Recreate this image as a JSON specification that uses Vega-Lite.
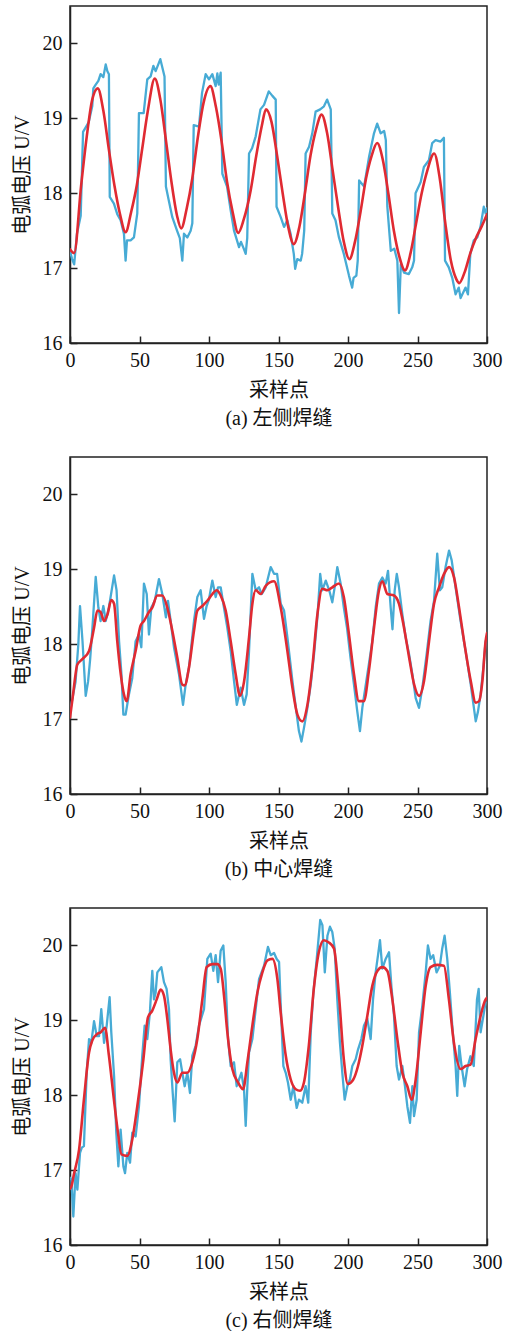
{
  "$schema": "https://vega.github.io/schema/vega-lite/v6.json",
  "background": "white",
  "padding": {"left": 11, "top": 5, "right": 5, "bottom": 0},
  "config": {
    "view": {"stroke": "#222", "strokeWidth": 1.5},
    "axis": {
      "grid": false,
      "domainColor": "#222", "domainWidth": 1.5,
      "tickColor": "#222", "tickWidth": 1.5, "tickSize": -7,
      "labelFont": "Liberation Serif", "labelFontSize": 20, "labelColor": "#111",
      "labelFlush": false, "labelOverlap": false,
      "titleFont": "Liberation Serif, Noto Sans CJK SC", "titleFontSize": 20,
      "titleFontWeight": "normal", "titleColor": "#111"
    },
    "axisX": {"labelPadding": 14},
    "axisY": {"labelPadding": 15},
    "line": {"strokeJoin": "round", "strokeCap": "round"}
  },
  "spacing": 27,
  "datasets": {
    "a_raw": [
      {"s":0,"v":17.23},{"s":1.5,"v":17.12},{"s":3,"v":17.05},{"s":5,"v":17.46},{"s":7.7,"v":17.7},{"s":9.4,"v":18.82},{"s":11,"v":18.87},{"s":13.5,"v":18.95},{"s":16,"v":19.16},{"s":16.8,"v":19.4},{"s":18.5,"v":19.45},{"s":20.4,"v":19.5},{"s":22,"v":19.59},{"s":24,"v":19.55},{"s":25.7,"v":19.72},{"s":26.9,"v":19.63},{"s":28,"v":19.59},{"s":28.6,"v":17.95},{"s":31.6,"v":17.86},{"s":34,"v":17.72},{"s":36.4,"v":17.64},{"s":38.8,"v":17.46},{"s":40,"v":17.1},{"s":41,"v":17.37},{"s":43.6,"v":17.37},{"s":46,"v":17.41},{"s":48.4,"v":17.73},{"s":49.6,"v":19.07},{"s":53,"v":19.07},{"s":55.6,"v":19.52},{"s":58,"v":19.56},{"s":60,"v":19.7},{"s":61.6,"v":19.63},{"s":65,"v":19.79},{"s":68,"v":19.56},{"s":69,"v":18.09},{"s":71,"v":17.91},{"s":73.6,"v":17.68},{"s":77,"v":17.5},{"s":79,"v":17.4},{"s":80.8,"v":17.1},{"s":82,"v":17.46},{"s":84.4,"v":17.41},{"s":86.8,"v":17.5},{"s":88,"v":17.6},{"s":89,"v":18.91},{"s":92.8,"v":18.89},{"s":95,"v":19.34},{"s":97.6,"v":19.59},{"s":100,"v":19.52},{"s":102.4,"v":19.59},{"s":104.8,"v":19.43},{"s":106,"v":19.6},{"s":107,"v":19.45},{"s":108.4,"v":19.61},{"s":109.6,"v":18.26},{"s":113,"v":18.09},{"s":115.6,"v":17.77},{"s":118,"v":17.5},{"s":121.6,"v":17.28},{"s":123,"v":17.35},{"s":125,"v":17.26},{"s":126.4,"v":17.19},{"s":127.5,"v":17.4},{"s":128.8,"v":18.53},{"s":131,"v":18.6},{"s":133.6,"v":18.76},{"s":137,"v":19.12},{"s":139.6,"v":19.18},{"s":143,"v":19.36},{"s":145.6,"v":19.3},{"s":148,"v":19.25},{"s":148.6,"v":17.82},{"s":151.6,"v":17.68},{"s":154,"v":17.55},{"s":156.3,"v":17.64},{"s":158.7,"v":17.46},{"s":161,"v":17.19},{"s":162,"v":16.99},{"s":163.5,"v":17.12},{"s":166,"v":17.1},{"s":167,"v":17.19},{"s":168.5,"v":17.5},{"s":169.5,"v":18.53},{"s":172,"v":18.62},{"s":174.3,"v":18.8},{"s":176.7,"v":19.09},{"s":180,"v":19.12},{"s":182.7,"v":19.16},{"s":185,"v":19.25},{"s":187.6,"v":19.12},{"s":188.7,"v":17.73},{"s":191,"v":17.64},{"s":193.5,"v":17.41},{"s":197,"v":17.19},{"s":200.7,"v":16.9},{"s":203,"v":16.74},{"s":204,"v":16.87},{"s":206,"v":16.9},{"s":207,"v":17.1},{"s":208,"v":18.17},{"s":211.6,"v":18.09},{"s":215.2,"v":18.49},{"s":218.7,"v":18.8},{"s":221,"v":18.93},{"s":223.5,"v":18.8},{"s":226,"v":18.83},{"s":227.2,"v":18.71},{"s":228.3,"v":17.82},{"s":230.8,"v":17.23},{"s":233.3,"v":17.26},{"s":235.5,"v":17.1},{"s":236.7,"v":16.4},{"s":238,"v":17.05},{"s":240.3,"v":16.94},{"s":243.8,"v":16.92},{"s":246.2,"v":17.01},{"s":247.5,"v":17.1},{"s":248.6,"v":18.0},{"s":252.3,"v":18.15},{"s":254.6,"v":18.35},{"s":258.2,"v":18.44},{"s":260.6,"v":18.67},{"s":263,"v":18.71},{"s":266.6,"v":18.69},{"s":269,"v":18.74},{"s":269.8,"v":17.1},{"s":272.5,"v":17.01},{"s":275,"v":16.87},{"s":277.4,"v":16.65},{"s":279.7,"v":16.74},{"s":281,"v":16.6},{"s":284.6,"v":16.74},{"s":286.3,"v":16.65},{"s":288,"v":17.19},{"s":290.5,"v":17.37},{"s":293,"v":17.41},{"s":295.3,"v":17.55},{"s":297.7,"v":17.82},{"s":299,"v":17.73},{"s":300,"v":17.8}
    ],
    "a_fit": [
      {"s":0,"v":17.25},{"s":3,"v":17.2},{"s":8,"v":18.1},{"s":12,"v":18.75},{"s":16,"v":19.25},{"s":20,"v":19.4},{"s":24,"v":19.1},{"s":28,"v":18.58},{"s":32,"v":18.1},{"s":36,"v":17.72},{"s":40,"v":17.48},{"s":44,"v":17.75},{"s":48,"v":18.1},{"s":52,"v":18.6},{"s":56,"v":19.1},{"s":61,"v":19.53},{"s":65,"v":19.25},{"s":69,"v":18.71},{"s":73,"v":18.15},{"s":77,"v":17.7},{"s":80,"v":17.53},{"s":84,"v":17.8},{"s":88,"v":18.2},{"s":92,"v":18.75},{"s":96,"v":19.2},{"s":101,"v":19.43},{"s":105,"v":19.15},{"s":109,"v":18.7},{"s":113,"v":18.15},{"s":117,"v":17.75},{"s":121,"v":17.47},{"s":125,"v":17.65},{"s":130,"v":18.04},{"s":134,"v":18.5},{"s":138,"v":18.9},{"s":141,"v":19.12},{"s":145,"v":18.95},{"s":149,"v":18.5},{"s":153,"v":18.0},{"s":157,"v":17.55},{"s":161,"v":17.32},{"s":165,"v":17.55},{"s":169,"v":18.0},{"s":173,"v":18.5},{"s":177,"v":18.85},{"s":181,"v":19.05},{"s":185,"v":18.8},{"s":189,"v":18.3},{"s":193,"v":17.8},{"s":197,"v":17.35},{"s":201,"v":17.12},{"s":205,"v":17.35},{"s":209,"v":17.75},{"s":213,"v":18.2},{"s":217,"v":18.5},{"s":221,"v":18.67},{"s":225,"v":18.45},{"s":229,"v":18.0},{"s":233,"v":17.5},{"s":237,"v":17.15},{"s":241,"v":16.97},{"s":245,"v":17.2},{"s":249,"v":17.6},{"s":253,"v":18.0},{"s":257,"v":18.3},{"s":262,"v":18.53},{"s":266,"v":18.2},{"s":270,"v":17.6},{"s":274,"v":17.1},{"s":278,"v":16.85},{"s":280,"v":16.8},{"s":284,"v":16.95},{"s":288,"v":17.2},{"s":292,"v":17.4},{"s":296,"v":17.55},{"s":300,"v":17.72}
    ],
    "b_raw": [
      {"s":0,"v":17.1},{"s":2,"v":17.3},{"s":4,"v":17.5},{"s":6,"v":18.0},{"s":7.2,"v":18.51},{"s":9,"v":18.04},{"s":11.3,"v":17.31},{"s":13,"v":17.5},{"s":14.5,"v":17.8},{"s":16,"v":18.18},{"s":18.5,"v":18.9},{"s":20.4,"v":18.49},{"s":22,"v":18.31},{"s":24,"v":18.51},{"s":25.7,"v":18.31},{"s":28,"v":18.49},{"s":31.7,"v":18.92},{"s":33.5,"v":18.72},{"s":35.3,"v":18.04},{"s":37,"v":17.6},{"s":38.4,"v":17.06},{"s":40,"v":17.06},{"s":42.4,"v":17.33},{"s":44.8,"v":17.55},{"s":47.2,"v":18.04},{"s":49.6,"v":18.13},{"s":51.3,"v":17.96},{"s":53.2,"v":18.81},{"s":55.2,"v":18.67},{"s":56.8,"v":18.13},{"s":58.5,"v":18.49},{"s":61,"v":18.58},{"s":64,"v":18.87},{"s":66.4,"v":18.67},{"s":69,"v":18.36},{"s":70.5,"v":18.58},{"s":72.4,"v":18.31},{"s":74.8,"v":17.96},{"s":78.4,"v":17.6},{"s":81.3,"v":17.19},{"s":83.2,"v":17.46},{"s":85.6,"v":17.69},{"s":89.2,"v":18.31},{"s":91.6,"v":18.63},{"s":94,"v":18.72},{"s":96.4,"v":18.34},{"s":98.3,"v":18.51},{"s":100,"v":18.6},{"s":102.4,"v":18.85},{"s":104.8,"v":18.63},{"s":106.5,"v":18.76},{"s":108.4,"v":18.76},{"s":110.3,"v":18.54},{"s":113.2,"v":18.22},{"s":115.6,"v":17.91},{"s":118,"v":17.51},{"s":120,"v":17.19},{"s":122.8,"v":17.42},{"s":125.2,"v":17.19},{"s":127.1,"v":17.33},{"s":128.8,"v":17.91},{"s":131.2,"v":18.94},{"s":133.6,"v":18.72},{"s":136,"v":18.76},{"s":137.9,"v":18.67},{"s":140.8,"v":18.76},{"s":144.4,"v":19.03},{"s":146.8,"v":18.94},{"s":149,"v":18.94},{"s":151.6,"v":18.54},{"s":154,"v":18.45},{"s":156.4,"v":18.09},{"s":160,"v":17.51},{"s":162.5,"v":17.15},{"s":164.7,"v":16.84},{"s":166.5,"v":16.7},{"s":168.3,"v":16.88},{"s":170.8,"v":17.15},{"s":173.2,"v":17.46},{"s":175.6,"v":17.87},{"s":178,"v":18.36},{"s":180,"v":18.94},{"s":181.5,"v":18.72},{"s":184,"v":18.85},{"s":186.5,"v":18.72},{"s":188.7,"v":18.56},{"s":190.4,"v":18.76},{"s":192.3,"v":19.03},{"s":194.7,"v":18.81},{"s":197,"v":18.49},{"s":199.3,"v":18.22},{"s":201.8,"v":17.82},{"s":204.3,"v":17.46},{"s":206.7,"v":17.1},{"s":208.6,"v":16.84},{"s":210.3,"v":17.15},{"s":212.8,"v":17.46},{"s":215,"v":17.73},{"s":217.5,"v":18.04},{"s":219.9,"v":18.49},{"s":222.3,"v":18.81},{"s":224.7,"v":18.89},{"s":227.1,"v":18.81},{"s":228.8,"v":18.98},{"s":230.7,"v":18.49},{"s":232,"v":18.2},{"s":233.6,"v":18.72},{"s":235.1,"v":18.94},{"s":236.7,"v":18.76},{"s":239.1,"v":18.4},{"s":241.5,"v":18.09},{"s":243.9,"v":17.87},{"s":246.3,"v":17.6},{"s":248.7,"v":17.28},{"s":251.1,"v":17.15},{"s":253.5,"v":17.42},{"s":256.6,"v":17.87},{"s":259.4,"v":18.31},{"s":261.9,"v":18.58},{"s":264.2,"v":19.21},{"s":266.1,"v":18.72},{"s":267.8,"v":18.76},{"s":270.2,"v":19.03},{"s":272.7,"v":19.25},{"s":274.6,"v":19.12},{"s":277.4,"v":18.76},{"s":281,"v":18.31},{"s":284.6,"v":17.91},{"s":288.3,"v":17.46},{"s":291.9,"v":16.97},{"s":293.5,"v":17.1},{"s":295.4,"v":17.33},{"s":297.4,"v":17.69},{"s":299,"v":18.04}
    ],
    "b_fit": [
      {"s":0,"v":17.02},{"s":2,"v":17.3},{"s":5.3,"v":17.73},{"s":8.9,"v":17.8},{"s":13.7,"v":17.91},{"s":17.3,"v":18.22},{"s":19.7,"v":18.45},{"s":22,"v":18.43},{"s":24.5,"v":18.31},{"s":27,"v":18.4},{"s":29.7,"v":18.59},{"s":31.7,"v":18.54},{"s":34,"v":18.04},{"s":36.5,"v":17.6},{"s":38.8,"v":17.33},{"s":40.8,"v":17.24},{"s":43.6,"v":17.6},{"s":47.2,"v":17.91},{"s":50.8,"v":18.25},{"s":53.2,"v":18.31},{"s":56.8,"v":18.43},{"s":59.2,"v":18.49},{"s":62.8,"v":18.65},{"s":66.4,"v":18.65},{"s":70,"v":18.49},{"s":73.6,"v":18.18},{"s":77.2,"v":17.82},{"s":80.8,"v":17.46},{"s":82.5,"v":17.45},{"s":85.6,"v":17.69},{"s":89.2,"v":18.18},{"s":91.6,"v":18.45},{"s":95.2,"v":18.51},{"s":98.8,"v":18.58},{"s":102.4,"v":18.67},{"s":105.5,"v":18.72},{"s":108.4,"v":18.65},{"s":112,"v":18.45},{"s":115.6,"v":18.04},{"s":119.2,"v":17.6},{"s":122.3,"v":17.31},{"s":125.2,"v":17.5},{"s":128.8,"v":18.09},{"s":131.2,"v":18.54},{"s":133.6,"v":18.72},{"s":137.2,"v":18.67},{"s":140.8,"v":18.78},{"s":146.8,"v":18.84},{"s":151.6,"v":18.49},{"s":156.4,"v":17.91},{"s":160,"v":17.42},{"s":163.6,"v":17.06},{"s":167.1,"v":16.97},{"s":170.8,"v":17.19},{"s":174.3,"v":17.69},{"s":178,"v":18.4},{"s":181.5,"v":18.74},{"s":185.2,"v":18.72},{"s":188.7,"v":18.76},{"s":193.5,"v":18.81},{"s":197,"v":18.63},{"s":200.7,"v":18.13},{"s":204.3,"v":17.6},{"s":207.8,"v":17.24},{"s":211.4,"v":17.24},{"s":215,"v":17.64},{"s":218.7,"v":18.22},{"s":222.3,"v":18.72},{"s":224.7,"v":18.84},{"s":228.3,"v":18.67},{"s":233.1,"v":18.65},{"s":236.7,"v":18.54},{"s":240.3,"v":18.22},{"s":244,"v":17.82},{"s":247.6,"v":17.46},{"s":251.1,"v":17.31},{"s":254.7,"v":17.51},{"s":258.3,"v":18.04},{"s":261.9,"v":18.54},{"s":265.5,"v":18.76},{"s":269.1,"v":18.94},{"s":272.7,"v":19.03},{"s":276.3,"v":18.89},{"s":279.9,"v":18.49},{"s":283.5,"v":18.04},{"s":288.3,"v":17.51},{"s":291.9,"v":17.22},{"s":294.3,"v":17.24},{"s":296.7,"v":17.51},{"s":299,"v":18.04},{"s":300,"v":18.15}
    ],
    "c_raw": [
      {"s":0,"v":16.9},{"s":1,"v":16.87},{"s":2.4,"v":16.38},{"s":4,"v":16.96},{"s":5.3,"v":16.74},{"s":7.2,"v":17.23},{"s":8.5,"v":17.3},{"s":10,"v":17.32},{"s":12,"v":18.3},{"s":13.7,"v":18.75},{"s":15.3,"v":18.7},{"s":17.3,"v":18.99},{"s":19.2,"v":18.79},{"s":20.9,"v":18.79},{"s":22.5,"v":19.15},{"s":24.5,"v":18.7},{"s":26.4,"v":18.93},{"s":28.5,"v":19.31},{"s":29.7,"v":18.84},{"s":31.7,"v":18.26},{"s":33.3,"v":17.5},{"s":34.8,"v":17.05},{"s":36.4,"v":17.54},{"s":38.4,"v":17.05},{"s":39.6,"v":16.96},{"s":41.2,"v":17.23},{"s":43.2,"v":17.1},{"s":44.8,"v":17.5},{"s":47.2,"v":17.45},{"s":49.6,"v":17.85},{"s":52,"v":18.53},{"s":53.7,"v":18.93},{"s":55.6,"v":18.75},{"s":57.5,"v":19.11},{"s":59.2,"v":19.66},{"s":60.4,"v":19.28},{"s":61.6,"v":19.37},{"s":62.8,"v":19.64},{"s":65.7,"v":19.71},{"s":67.6,"v":19.51},{"s":69.5,"v":19.42},{"s":71.2,"v":19.15},{"s":72.4,"v":18.48},{"s":73.9,"v":18.03},{"s":75.3,"v":17.65},{"s":77.2,"v":18.44},{"s":79.2,"v":18.48},{"s":80.8,"v":18.3},{"s":82.5,"v":18.12},{"s":84.4,"v":18.3},{"s":86.3,"v":18.03},{"s":88,"v":18.53},{"s":90.4,"v":18.66},{"s":92.8,"v":18.93},{"s":96.4,"v":19.15},{"s":98.8,"v":19.82},{"s":101.2,"v":19.89},{"s":103.1,"v":19.66},{"s":104.8,"v":19.87},{"s":106.5,"v":19.51},{"s":108.4,"v":19.93},{"s":110.3,"v":20.0},{"s":112,"v":19.51},{"s":113.7,"v":18.75},{"s":115.6,"v":18.39},{"s":118,"v":18.44},{"s":119.9,"v":18.12},{"s":121.6,"v":18.21},{"s":123.3,"v":18.3},{"s":125.2,"v":18.08},{"s":126.4,"v":17.59},{"s":127.6,"v":18.12},{"s":128.8,"v":18.57},{"s":131.2,"v":18.75},{"s":133.6,"v":19.15},{"s":136,"v":19.55},{"s":139.6,"v":19.73},{"s":142.4,"v":19.98},{"s":144.4,"v":19.87},{"s":146.8,"v":19.9},{"s":148.7,"v":19.82},{"s":150.4,"v":19.78},{"s":151.6,"v":19.2},{"s":153.5,"v":18.39},{"s":155.2,"v":18.3},{"s":156.8,"v":18.17},{"s":158.8,"v":17.94},{"s":160.7,"v":18.12},{"s":163.1,"v":17.83},{"s":164.7,"v":17.94},{"s":167.1,"v":17.9},{"s":169.5,"v":18.12},{"s":171.4,"v":17.9},{"s":173.2,"v":18.84},{"s":175.1,"v":19.37},{"s":177.5,"v":19.82},{"s":180,"v":20.34},{"s":181.6,"v":20.27},{"s":183.3,"v":19.64},{"s":185.2,"v":20.13},{"s":187,"v":20.25},{"s":188.7,"v":20.18},{"s":190.4,"v":19.96},{"s":192.3,"v":19.28},{"s":194.2,"v":18.7},{"s":195.9,"v":18.3},{"s":197.6,"v":17.94},{"s":199.5,"v":18.12},{"s":201.4,"v":18.21},{"s":203.1,"v":18.39},{"s":205.5,"v":18.48},{"s":207.2,"v":18.61},{"s":209.6,"v":18.75},{"s":211.5,"v":18.93},{"s":213.9,"v":19.02},{"s":216.3,"v":18.75},{"s":218,"v":19.28},{"s":219.9,"v":19.64},{"s":221.6,"v":19.87},{"s":223,"v":20.07},{"s":224.7,"v":19.69},{"s":227.1,"v":19.82},{"s":229.5,"v":19.91},{"s":231.2,"v":19.46},{"s":233.1,"v":19.06},{"s":235,"v":18.39},{"s":236.7,"v":18.21},{"s":239.1,"v":18.39},{"s":241,"v":18.12},{"s":242.7,"v":17.85},{"s":244.6,"v":17.63},{"s":246.3,"v":18.12},{"s":247.5,"v":17.72},{"s":249.4,"v":17.94},{"s":251.1,"v":18.84},{"s":253.5,"v":19.2},{"s":255.9,"v":19.64},{"s":257.5,"v":20.0},{"s":259.4,"v":19.82},{"s":261.3,"v":19.87},{"s":263.7,"v":19.64},{"s":266.1,"v":19.73},{"s":267.8,"v":19.96},{"s":269.5,"v":20.13},{"s":271.4,"v":19.82},{"s":273.3,"v":19.37},{"s":275,"v":18.93},{"s":277.4,"v":18.39},{"s":278.6,"v":17.99},{"s":280,"v":18.66},{"s":281.7,"v":18.39},{"s":283.9,"v":18.12},{"s":285.7,"v":18.35},{"s":288.1,"v":18.52},{"s":290.5,"v":18.39},{"s":292.8,"v":19.28},{"s":294,"v":19.42},{"s":295.4,"v":18.84},{"s":297.4,"v":19.06},{"s":299,"v":19.24}
    ],
    "c_fit": [
      {"s":0,"v":16.75},{"s":1,"v":16.78},{"s":3,"v":16.96},{"s":6.5,"v":17.27},{"s":10,"v":17.94},{"s":13.7,"v":18.57},{"s":16,"v":18.73},{"s":19.7,"v":18.82},{"s":22,"v":18.84},{"s":25.2,"v":18.9},{"s":28,"v":18.53},{"s":31.6,"v":17.94},{"s":34.5,"v":17.5},{"s":37,"v":17.21},{"s":41.2,"v":17.19},{"s":44.8,"v":17.41},{"s":48.4,"v":17.85},{"s":52.8,"v":18.48},{"s":56.1,"v":19.04},{"s":59.2,"v":19.13},{"s":62.4,"v":19.28},{"s":65.2,"v":19.41},{"s":67.6,"v":19.33},{"s":70,"v":19.02},{"s":72.4,"v":18.61},{"s":74.8,"v":18.3},{"s":77.2,"v":18.17},{"s":80.8,"v":18.3},{"s":84.4,"v":18.3},{"s":88,"v":18.44},{"s":91.6,"v":18.75},{"s":95.2,"v":19.28},{"s":98.3,"v":19.71},{"s":102.4,"v":19.75},{"s":106,"v":19.75},{"s":108.4,"v":19.69},{"s":110.8,"v":19.33},{"s":113.2,"v":18.84},{"s":116.8,"v":18.35},{"s":120.9,"v":18.17},{"s":124.5,"v":18.08},{"s":127.6,"v":18.44},{"s":131.2,"v":18.93},{"s":134.8,"v":19.37},{"s":138.4,"v":19.64},{"s":142,"v":19.8},{"s":145.6,"v":19.82},{"s":149.2,"v":19.55},{"s":151.6,"v":19.1},{"s":155.2,"v":18.53},{"s":158.8,"v":18.21},{"s":162.4,"v":18.08},{"s":165.5,"v":18.06},{"s":168.3,"v":18.17},{"s":171.8,"v":18.66},{"s":175.4,"v":19.42},{"s":179,"v":19.91},{"s":182.6,"v":20.07},{"s":186.2,"v":20.04},{"s":189.9,"v":19.96},{"s":193.5,"v":19.33},{"s":197,"v":18.48},{"s":199.9,"v":18.15},{"s":203.8,"v":18.21},{"s":207.2,"v":18.39},{"s":210.3,"v":18.66},{"s":213.9,"v":19.06},{"s":217.5,"v":19.46},{"s":221.1,"v":19.66},{"s":224.7,"v":19.71},{"s":228.3,"v":19.66},{"s":231.9,"v":19.28},{"s":235.5,"v":18.75},{"s":239.1,"v":18.3},{"s":242.7,"v":18.12},{"s":245.8,"v":17.94},{"s":248.7,"v":18.21},{"s":252.3,"v":18.84},{"s":255.9,"v":19.46},{"s":259.4,"v":19.71},{"s":264.2,"v":19.74},{"s":269,"v":19.73},{"s":272.6,"v":19.28},{"s":276.2,"v":18.7},{"s":281,"v":18.35},{"s":284.6,"v":18.39},{"s":288.2,"v":18.41},{"s":291.8,"v":18.75},{"s":295.4,"v":19.06},{"s":299,"v":19.28},{"s":300,"v":19.3}
    ]
  },
  "vconcat": [
    {
      "width": 417, "height": 337,
      "encoding": {
        "x": {"field": "s", "type": "quantitative", "scale": {"domain": [0, 300], "nice": false},
              "axis": {"values": [0, 50, 100, 150, 200, 250, 300], "title": ["采样点", "(a) 左侧焊缝"], "titlePadding": 10, "titleLineHeight": 28}},
        "y": {"field": "v", "type": "quantitative", "scale": {"domain": [16, 20.5], "nice": false, "zero": false},
              "axis": {"values": [16, 17, 18, 19, 20], "title": "电弧电压 U/V", "titlePadding": 10}}
      },
      "layer": [
        {"data": {"name": "a_raw"}, "mark": {"type": "line", "color": "#47abd5", "strokeWidth": 2.3, "clip": true}},
        {"data": {"name": "a_fit"}, "mark": {"type": "line", "color": "#e02a32", "strokeWidth": 2.6, "interpolate": "monotone", "clip": true}}
      ]
    },
    {
      "width": 417, "height": 337,
      "encoding": {
        "x": {"field": "s", "type": "quantitative", "scale": {"domain": [0, 300], "nice": false},
              "axis": {"values": [0, 50, 100, 150, 200, 250, 300], "title": ["采样点", "(b) 中心焊缝"], "titlePadding": 10, "titleLineHeight": 28}},
        "y": {"field": "v", "type": "quantitative", "scale": {"domain": [16, 20.5], "nice": false, "zero": false},
              "axis": {"values": [16, 17, 18, 19, 20], "title": "电弧电压 U/V", "titlePadding": 10}}
      },
      "layer": [
        {"data": {"name": "b_raw"}, "mark": {"type": "line", "color": "#47abd5", "strokeWidth": 2.3, "clip": true}},
        {"data": {"name": "b_fit"}, "mark": {"type": "line", "color": "#e02a32", "strokeWidth": 2.6, "interpolate": "monotone", "clip": true}}
      ]
    },
    {
      "width": 417, "height": 337,
      "encoding": {
        "x": {"field": "s", "type": "quantitative", "scale": {"domain": [0, 300], "nice": false},
              "axis": {"values": [0, 50, 100, 150, 200, 250, 300], "title": ["采样点", "(c) 右侧焊缝"], "titlePadding": 10, "titleLineHeight": 28}},
        "y": {"field": "v", "type": "quantitative", "scale": {"domain": [16, 20.5], "nice": false, "zero": false},
              "axis": {"values": [16, 17, 18, 19, 20], "title": "电弧电压 U/V", "titlePadding": 10}}
      },
      "layer": [
        {"data": {"name": "c_raw"}, "mark": {"type": "line", "color": "#47abd5", "strokeWidth": 2.3, "clip": true}},
        {"data": {"name": "c_fit"}, "mark": {"type": "line", "color": "#e02a32", "strokeWidth": 2.6, "interpolate": "monotone", "clip": true}}
      ]
    }
  ]
}
